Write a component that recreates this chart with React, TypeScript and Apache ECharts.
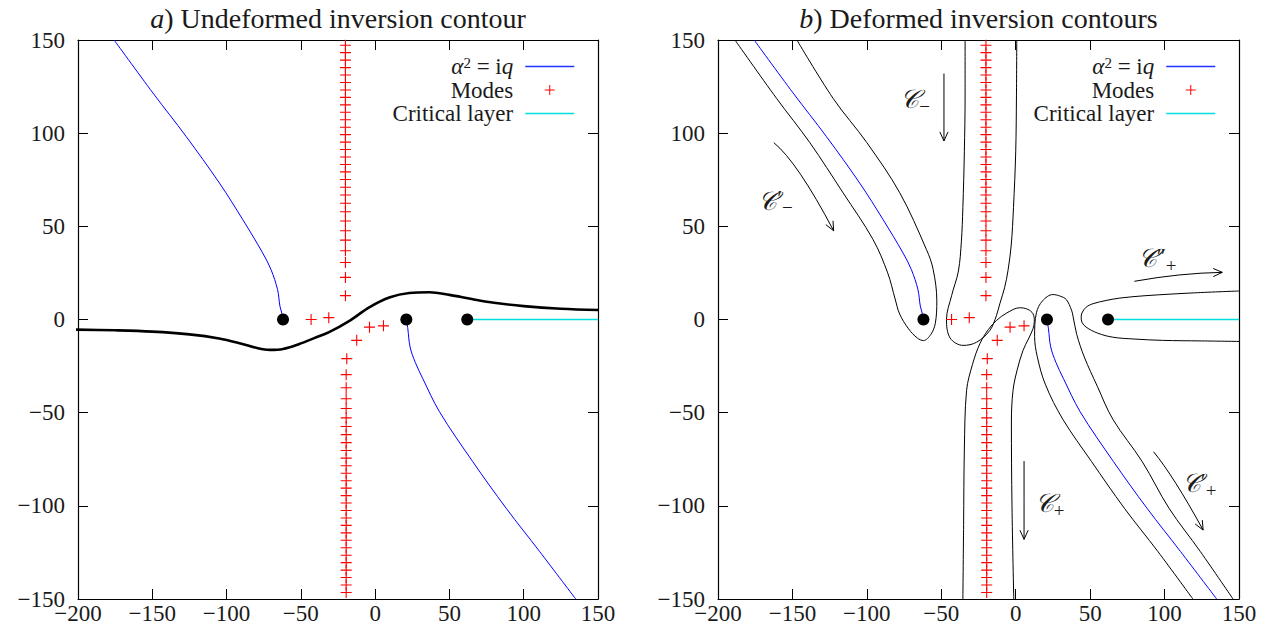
import React, { useEffect, useRef } from "react";
import * as echarts from "echarts";

// ---------- data ----------
const X_MIN = -200, X_MAX = 150, Y_MIN = -150, Y_MAX = 150, TICK_STEP = 50;

const PANEL_TITLES = ["{it|a}) Undeformed inversion contour", "{it|b}) Deformed inversion contours"];

// alpha^2 = iq branches
const alphaUpper = [[-62, 0], [-63, 4], [-64.1, 7.2], [-65.7, 16.1], [-70.1, 26.8], [-75.7, 35.7], [-89.1, 53.6], [-104.8, 73.2], [-127.2, 98.2], [-149.5, 121.5], [-175.7, 150]];
const alphaLower = [[21, 0], [22, -5], [23.5, -14.7], [27, -23], [32, -31.6], [43.3, -49.5], [65.7, -76.3], [88.2, -101.3], [110.7, -124.5], [135, -150]];

// branch points (black dots)
const branchPoints = [[-62, 0], [21, 0], [62, 0]];

// modes
const modesUpperY = [12.8, 22.6, 30.6, 36.9, 42.6, 47.6, 52.9, 57.8, 62.4, 66.8, 71.0, 75.1, 79.2, 83.2, 87.2, 91.2, 95.2, 99.2, 103.2, 107.2, 111.2, 115.2, 119.2, 123.2, 127.2, 131.2, 135.2, 139.2, 143.2, 147.2];
const modesUpperX = -20;
const modesLowerY = [-36.6, -42.5, -47.8, -52.8, -57.4, -61.8, -66.1, -70.3, -74.4, -78.5, -82.5, -86.5, -90.5, -94.5, -98.5, -102.5, -106.5, -110.5, -114.5, -118.5, -122.5, -126.5, -130.5, -134.5, -138.5, -142.5, -146.5];
const modesLowerX = -19.5;
const modesNearAxis = [[-43.1, 0], [-31.2, 1.0], [-3.8, -4.1], [5.6, -3.4], [-12.4, -11.2], [-19.1, -21.0], [-19.5, -29.6]];

// critical layer
const criticalLayer = [[62, 0], [150, 0]];

// undeformed contour (thick black)
const undeformed = [[-204, -5.4], [-175, -5.8], [-150, -6.5], [-125, -8], [-105, -10.2], [-90, -13], [-80, -15.2], [-71, -16.3], [-62, -15.8], [-51, -13.1], [-41, -10], [-31, -6.8], [-17, -0.6], [-4, 6.5], [10, 11.9], [23, 14.2], [36.5, 14.6], [50, 13.2], [65, 11], [80, 9], [100, 7.2], [125, 5.8], [150, 5.1]];

// deformed contours
const contourLeftLoop = [[-188.6, 150], [-160.6, 118.6], [-138.3, 94.9], [-116, 68], [-95.9, 43], [-86, 25], [-81, 11], [-78, 3], [-72, -5], [-66, -10], [-62, -11.3], [-57, -8], [-54, -2], [-53, 10], [-55.5, 27], [-60, 37.6], [-77.9, 68], [-100, 94.9], [-122.6, 118.6], [-147, 150]];
const contourCminus = [[-34, 150], [-34, 120], [-34.5, 90], [-35.5, 60], [-36.5, 42], [-38.5, 26], [-43, 13], [-46.5, 0], [-44, -10], [-35.3, -13.9], [-26.3, -12.2], [-17.4, -5.9], [-13, 2], [-10.7, 8.4], [-7.5, 17], [-5.2, 26.2], [-3, 40], [-1.5, 60], [0, 90], [0.5, 120], [0.7, 150]];
const contourCplus = [[-35.5, -150], [-35, -110], [-34.5, -70], [-33, -38], [-29, -24], [-24.1, -13], [-18.5, -5.5], [-12.9, -0.5], [-6, 3.5], [2.7, 6.3], [8, 5.5], [11.6, 3.1], [12.5, -1], [11.6, -5], [8.5, -10.5], [4.9, -16.6], [1, -27], [-1.8, -38], [-2.9, -55], [-2.5, -100], [-1.3, -150]];
const contourRightLoop = [[119, -150], [95.5, -124.5], [73, -101.3], [51, -76.3], [31.7, -53.6], [20, -35], [14.5, -20], [12.7, -9], [13.9, 3.6], [18, 10], [25, 13.4], [30, 12.5], [34, 10.7], [37.5, 5], [38.5, 1.8], [41, -8], [46, -20], [54.8, -35.8], [65.3, -53.6], [85, -76.3], [103, -101.3], [124, -124.5], [146, -150]];
const contourCritical = [[150, 15.3], [120, 14.3], [87.5, 12.8], [70, 11.5], [60.7, 10.2], [52, 8.5], [47.3, 6.6], [44.5, 3.5], [44, 1.2], [44.5, -1.5], [47.3, -4.1], [55, -7.3], [65.2, -9.5], [80, -10.5], [98.6, -11.2], [125, -11.5], [153, -11.8]];

// arrows: start, control, end
const arrows = [
  [-48.2, 132, -48.2, 114, -48.2, 95.8],
  [-162.5, 94.9, -146.8, 84.7, -122.3, 47.6],
  [79.7, 20.5, 110.3, 24.9, 138.8, 25.3],
  [5.6, -76, 5.6, -97, 5.6, -118],
  [92.6, -71, 106, -84, 125.9, -113],
];
const arrowLabelPos = [[-67.6, 118.3], [-161.4, 63.7], [95, 33], [22.8, -98.5], [123.2, -87.8]];
const arrowLabelText = ["{c|\u{1D49E}}{sub|\u2212}", "{c|\u{1D49E}}{p|\u2032}{sub|\u2212}", "{c|\u{1D49E}}{p|\u2033}{sub|+}", "{c|\u{1D49E}}{sub|+}", "{c|\u{1D49E}}{p|\u2032}{sub|+}"];

// ---------- styles ----------
const FONT = "Liberation Serif";
const MATHFONT = "DejaVu Serif";
const TEXT = "#1a1a1a";
const BLUE = "#0000ff";
const LEGEND_BLUE = "#2233ff";
const RED = "#ff0000";
const CYAN = "#00dede";
const PLUS = "path://M4.5,0H5.5V4.5H10V5.5H5.5V10H4.5V5.5H0V4.5H4.5Z";

const GRIDS = [
  { left: 78, top: 40, width: 520, height: 559 },
  { left: 718, top: 40, width: 521, height: 559 },
];

const fmt = (v: number) => "{t|" + (v < 0 ? "\u2212" + -v : String(v)) + "}";

export default function App() {
  const ref = useRef<HTMLDivElement>(null);
  useEffect(() => {
    if (!ref.current) return;
    const chart = echarts.init(ref.current, null, { renderer: "svg" });

    const lbl = {
      fontFamily: FONT, fontSize: 23, color: TEXT,
      rich: { t: { fontFamily: FONT, fontSize: 23, color: TEXT } },
    };
    const xAxes: any[] = [];
    const yAxes: any[] = [];
    GRIDS.forEach((_, g) => {
      const base = {
        gridIndex: g, type: "value", min: X_MIN, max: X_MAX, interval: TICK_STEP,
        splitLine: { show: false },
        axisLine: { show: true, onZero: false, lineStyle: { color: "#000", width: 1.2 } },
        axisTick: { show: true, inside: true, length: 10, lineStyle: { color: "#000", width: 1 } },
      };
      xAxes.push({ ...base, position: "bottom", axisLabel: { show: true, formatter: fmt, ...lbl, margin: 3 } });
      xAxes.push({ ...base, position: "top", axisLabel: { show: false } });
      const ybase = { ...base, min: Y_MIN, max: Y_MAX };
      yAxes.push({ ...ybase, position: "left", axisLabel: { show: true, formatter: fmt, ...lbl, margin: 13 } });
      yAxes.push({ ...ybase, position: "right", axisLabel: { show: false } });
    });

    const ax = (g: number) => ({ xAxisIndex: g * 2, yAxisIndex: g * 2 });
    const line = (g: number, name: string, data: number[][], color: string, width: number, extra: any = {}) => ({
      type: "line", name, data, ...ax(g), symbol: "none", showSymbol: false, smooth: 0.35,
      color, lineStyle: { color, width }, itemStyle: { color }, silent: true, z: 3, ...extra,
    });

    const modesData = [
      ...modesUpperY.map((y) => [modesUpperX, y]),
      ...modesNearAxis,
      ...modesLowerY.map((y) => [modesLowerX, y]),
    ];

    const series: any[] = [];
    [0, 1].forEach((g) => {
      series.push(line(g, "alpha", alphaUpper, BLUE, 1));
      series.push(line(g, "alpha", alphaLower, BLUE, 1));
      series.push({ type: "scatter", name: "Modes", data: modesData, ...ax(g), symbol: PLUS, symbolSize: 11, itemStyle: { color: RED, opacity: 1 }, silent: true, z: 4 });
      series.push(line(g, "Critical layer", criticalLayer, CYAN, 1.5, { smooth: false }));
    });
    series.push(line(0, "undeformed", undeformed, "#000", 2.6, { clip: false }));
    [contourLeftLoop, contourCminus, contourCplus, contourRightLoop].forEach((d, i) =>
      series.push(line(1, "contour" + i, d, "#000", 1)));
    series.push(line(1, "contourCrit", contourCritical, "#000", 1, { clip: false }));
    [0, 1].forEach((g) => {
      series.push({ type: "scatter", name: "branch", data: branchPoints, ...ax(g), symbol: "circle", symbolSize: 12, itemStyle: { color: "#000", opacity: 1 }, silent: true, z: 6 });
    });

    // arrows
    series.push({
      type: "custom", name: "arrows", ...ax(1), data: arrows, silent: true, z: 5,
      encode: { x: [0, 2, 4], y: [1, 3, 5] },
      renderItem: (_p: any, api: any) => {
        const p1 = api.coord([api.value(0), api.value(1)]);
        const c = api.coord([api.value(2), api.value(3)]);
        const p2 = api.coord([api.value(4), api.value(5)]);
        let dx = p2[0] - c[0], dy = p2[1] - c[1];
        const L = Math.hypot(dx, dy) || 1; dx /= L; dy /= L;
        const hl = 10, ang = 0.42;
        const rot = (a: number) => [p2[0] - hl * (dx * Math.cos(a) - dy * Math.sin(a)), p2[1] - hl * (dx * Math.sin(a) + dy * Math.cos(a))];
        const st = { stroke: "#000", lineWidth: 1, fill: null };
        return {
          type: "group", children: [
            { type: "bezierCurve", shape: { x1: p1[0], y1: p1[1], x2: p2[0], y2: p2[1], cpx1: c[0], cpy1: c[1] }, style: st },
            { type: "polyline", shape: { points: [rot(ang), p2, rot(-ang)] }, style: st },
          ],
        };
      },
    });
    series.push({
      type: "custom", name: "arrowLabels", ...ax(1), data: arrowLabelPos, silent: true, z: 5,
      renderItem: (p: any, api: any) => {
        const pt = api.coord([api.value(0), api.value(1)]);
        return {
          type: "text", x: pt[0], y: pt[1],
          style: {
            text: arrowLabelText[p.dataIndex], align: "center", verticalAlign: "middle", fill: TEXT,
            fontFamily: MATHFONT, fontSize: 26,
            rich: {
              c: { fontFamily: MATHFONT, fontSize: 26, fill: TEXT, fontStyle: "italic" },
              p: { fontFamily: FONT, fontSize: 22, fill: TEXT, padding: [0, 0, 6, 0] },
              sub: { fontFamily: FONT, fontSize: 19, fill: TEXT, padding: [14, 0, 0, 0] },
            },
          },
        };
      },
    });

    const legendFor = (right: number) => ({
      data: [
        { name: "alpha", icon: "inherit", lineStyle: { color: LEGEND_BLUE, width: 1.5, opacity: 1 }, itemStyle: { opacity: 0, color: LEGEND_BLUE } },
        { name: "Modes", icon: PLUS, itemStyle: { color: RED } },
        { name: "Critical layer", icon: "inherit", lineStyle: { color: CYAN, width: 1.5, opacity: 1 }, itemStyle: { opacity: 0, color: CYAN } },
      ],
      orient: "vertical", right, top: 50, align: "right", itemWidth: 49, itemHeight: 10, itemGap: 0.5,
      selectedMode: false,
      formatter: (n: string) => (n === "alpha" ? "{i|\u03b1}{sup|2}{t| = i}{i|q}" : "{t|" + n + "}"),
      textStyle: {
        fontFamily: FONT, fontSize: 23, lineHeight: 20, color: TEXT, padding: [0, 7, 0, 0],
        rich: {
          t: { fontFamily: FONT, fontSize: 23, lineHeight: 20, color: TEXT },
          i: { fontFamily: FONT, fontSize: 23, lineHeight: 20, fontStyle: "italic", color: TEXT },
          sup: { fontFamily: FONT, fontSize: 15, lineHeight: 20, color: TEXT, padding: [0, 0, 7, 0] },
        },
      },
    });

    chart.setOption({
      animation: false,
      backgroundColor: "#fff",
      textStyle: { fontFamily: FONT },
      grid: GRIDS.map((g) => ({ ...g, show: false, containLabel: false })),
      xAxis: xAxes,
      yAxis: yAxes,
      legend: [legendFor(1276 - 580), legendFor(1276 - 1221)],
      graphic: PANEL_TITLES.map((t, i) => ({
        type: "text", x: GRIDS[i].left + GRIDS[i].width / 2, y: 18,
        style: {
          text: t, align: "center", verticalAlign: "middle", fill: TEXT, fontFamily: FONT, fontSize: 28,
          rich: { it: { fontFamily: FONT, fontSize: 28, fontStyle: "italic", fill: TEXT } },
        },
      })),
      series,
    });
    return () => chart.dispose();
  }, []);
  return <div ref={ref} style={{ position: "fixed", left: 0, top: 0, width: 1276, height: 635 }} />;
}
